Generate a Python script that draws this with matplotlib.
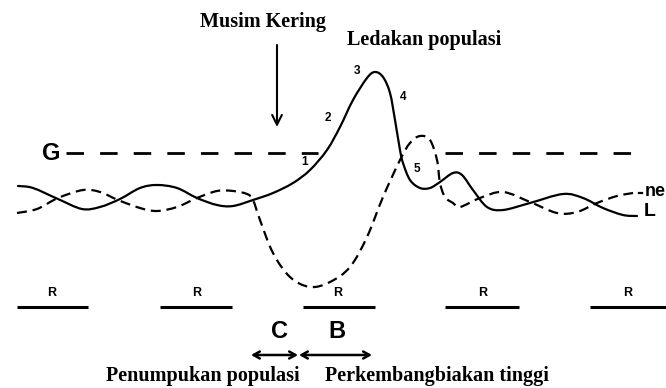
import matplotlib
matplotlib.use("Agg")
import matplotlib.pyplot as plt
from matplotlib.path import Path
from matplotlib.patches import PathPatch

# ---- data (pixel coordinates of the schematic) ----
solid_x = [18, 33, 58, 82, 100, 120, 140, 157, 177, 197, 217, 233, 253, 273, 293, 310,
           327, 340, 353, 367, 375, 383, 390, 395, 400, 403, 410, 420, 430, 440, 453, 462,
           473, 487, 503, 530, 563, 583, 603, 623, 637]
solid_y = [186, 188, 199, 209, 207, 199, 188, 185, 188, 198, 205, 206, 200, 193, 183, 170,
           150, 127, 100, 78, 72, 77, 93, 120, 150, 163, 180, 188, 188, 182, 173, 175,
           190, 207, 210, 203, 194, 198, 208, 215, 216]

dashed_x = [17, 37, 58, 83, 100, 118, 140, 157, 177, 197, 217, 233, 247, 253, 260, 273,
            290, 310, 330, 350, 367, 383, 400, 410, 420, 430, 437, 440, 445, 453, 460,
            480, 503, 530, 557, 577, 597, 617, 633]
dashed_y = [213, 209, 198, 190, 192, 200, 208, 211, 207, 198, 191, 191, 194, 200, 220, 253,
            277, 287, 282, 267, 237, 197, 160, 143, 136, 140, 160, 183, 197, 203, 207,
            198, 192, 202, 213, 212, 203, 196, 193]

g_level = 153
g_segments = [(66, 318), (445, 638)]

r_starts = [17, 160, 303, 445, 590]
r_ends = [88, 232, 375, 519, 666]
r_label_x = [52, 197, 338, 483, 628]

point_labels = ["1", "2", "3", "4", "5"]
point_label_x = [305, 328, 357, 403, 417]
point_label_y = [162, 118, 71, 97, 169]

c_span = (251, 298)
b_span = (299, 372)


def smooth_path(xs, ys):
    """Catmull-Rom curve through the read points, drawn as cubic Bezier segments."""
    pts = list(zip(xs, ys))
    verts = [pts[0]]
    codes = [Path.MOVETO]
    n = len(pts)
    for i in range(n - 1):
        p0 = pts[i - 1] if i > 0 else pts[i]
        p1 = pts[i]
        p2 = pts[i + 1]
        p3 = pts[i + 2] if i + 2 < n else pts[i + 1]
        c1 = (p1[0] + (p2[0] - p0[0]) / 6.0, p1[1] + (p2[1] - p0[1]) / 6.0)
        c2 = (p2[0] - (p3[0] - p1[0]) / 6.0, p2[1] - (p3[1] - p1[1]) / 6.0)
        verts += [c1, c2, p2]
        codes += [Path.CURVE4] * 3
    return Path(verts, codes)


# ---- figure ----
fig = plt.figure(figsize=(6.66, 3.88), dpi=100)
ax = fig.add_axes([0, 0, 1, 1])
ax.set_xlim(0, 666)
ax.set_ylim(388, 0)
ax.axis("off")

serif = "Liberation Serif"
sans = "Liberation Sans"

# curves
ax.add_patch(PathPatch(smooth_path(solid_x, solid_y), fill=False, edgecolor="black",
                       lw=1.6, joinstyle="round", capstyle="round"))
ax.add_patch(PathPatch(smooth_path(dashed_x, dashed_y), fill=False, edgecolor="black",
                       lw=1.6, linestyle=(0, (4.5, 2.6))))
ax.plot([639, 642], [193, 193], color="black", lw=1.6)

# G line
for a, b in g_segments:
    ax.plot([a, b], [g_level, g_level], color="black", lw=2.0,
            linestyle=(0, (6.3, 5.8)))
ax.text(51, g_level, "G", fontsize=17, fontweight="bold", family=sans,
        ha="center", va="center")

# end labels
ax.text(645, 191, "ne", fontsize=13, fontweight="bold", family=sans,
        ha="left", va="center")
ax.text(650, 212, "L", fontsize=14, fontweight="bold", family=sans,
        ha="center", va="center")

# point numbers
for lab, x, y in zip(point_labels, point_label_x, point_label_y):
    ax.text(x, y, lab, fontsize=8.5, fontweight="bold", family=sans,
            ha="center", va="center")

# R segments
for s, e, lx in zip(r_starts, r_ends, r_label_x):
    ax.plot([s, e], [307, 307], color="black", lw=2.2, solid_capstyle="butt")
    ax.text(lx, 293, "R", fontsize=9, fontweight="bold", family=sans,
            ha="center", va="center")

# Musim Kering arrow
ax.annotate("", xy=(277, 127), xytext=(277, 45),
            arrowprops=dict(arrowstyle="->,head_length=0.7,head_width=0.35",
                            lw=1.5, color="black", shrinkA=0, shrinkB=0))

# C and B arrows
for (a, b) in (c_span, b_span):
    ax.annotate("", xy=(b, 355), xytext=(a, 355),
                arrowprops=dict(arrowstyle="<->,head_length=0.45,head_width=0.25",
                                lw=1.8, color="black", shrinkA=0, shrinkB=0))
ax.text(279, 332, "C", fontsize=17, fontweight="bold", family=sans,
        ha="center", va="center")
ax.text(337, 332, "B", fontsize=17, fontweight="bold", family=sans,
        ha="center", va="center")

# titles
ax.text(263, 22, "Musim Kering", fontsize=14.5, fontweight="bold", family=serif,
        ha="center", va="center")
ax.text(424, 40, "Ledakan populasi", fontsize=14.5, fontweight="bold", family=serif,
        ha="center", va="center")
ax.text(203, 376, "Penumpukan populasi", fontsize=14.5, fontweight="bold", family=serif,
        ha="center", va="center")
ax.text(437, 376, "Perkembangbiakan tinggi", fontsize=14.5, fontweight="bold",
        family=serif, ha="center", va="center")

fig.savefig("out.png", dpi=100)
